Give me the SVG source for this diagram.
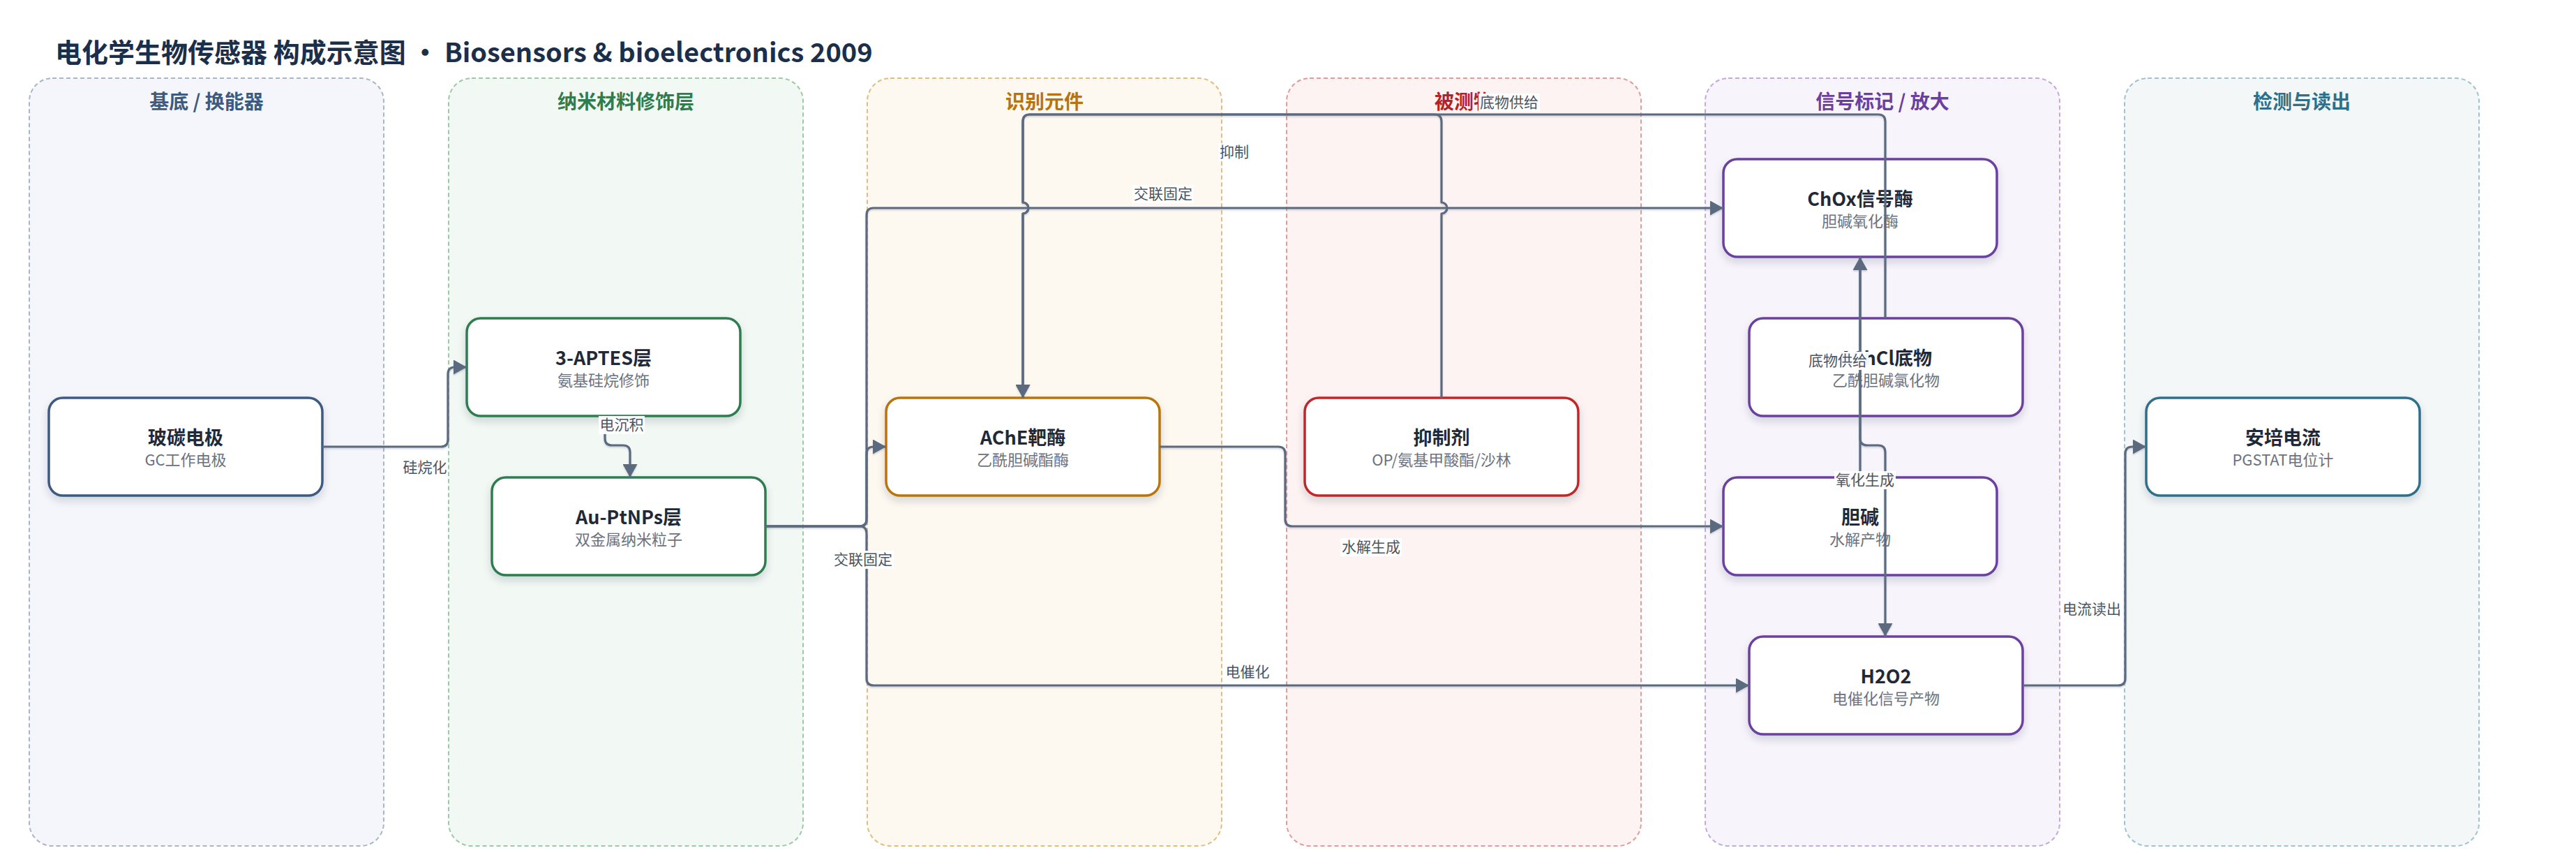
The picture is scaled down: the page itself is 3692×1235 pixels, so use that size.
<svg xmlns="http://www.w3.org/2000/svg" width="3692" height="1235" viewBox="0 0 3692 1235">
<defs>
<style>
text{font-family:"Noto Sans CJK SC","Noto Sans",sans-serif}
.title{font-size:38px;font-weight:700;fill:#1b2f4b}
.lane{stroke-width:2;stroke-dasharray:6 4}
.lt{font-size:28px;font-weight:700;text-anchor:middle}
.node rect{fill:#fff;stroke-width:3.5;filter:url(#sh)}
.nt{font-size:27px;font-weight:700;fill:#1f2937;text-anchor:middle}
.ns{font-size:22px;fill:#6b7280;text-anchor:middle}
.edge{fill:none;stroke:#5b6a80;stroke-width:3.2;stroke-linejoin:round}
.arr{marker-end:url(#ah)}
.lbl{font-size:21px;fill:#4b5563;text-anchor:middle}
.lbg{fill:#fff;fill-opacity:0.95}
</style>
<filter id="sh" x="-10%" y="-10%" width="120%" height="140%">
<feDropShadow dx="0" dy="6" stdDeviation="6" flood-color="#1f2937" flood-opacity="0.16"/>
</filter>
<filter id="esh" x="-5%" y="-5%" width="110%" height="110%">
<feDropShadow dx="0" dy="2" stdDeviation="1" flood-color="#5b6a80" flood-opacity="0.25"/>
</filter>
<marker id="ah" markerUnits="userSpaceOnUse" markerWidth="20" markerHeight="21" refX="19" refY="10.5" orient="auto">
<path d="M0,0 L19,10.5 L0,21 z" fill="#5b6a80"/>
</marker>
</defs>
<rect x="0" y="0" width="3692" height="1235" fill="#ffffff"/>
<text class="title" x="79" y="89">电化学生物传感器 构成示意图 • Biosensors &amp; bioelectronics 2009</text>

<g id="lanes">
<g id="lane-substrate">
<rect class="lane" x="42" y="112" width="508" height="1100" rx="33" fill="#f5f6fb" stroke="#a9b6c8"/>
<text class="lt" x="296" y="156" fill="#3d5a80">基底 / 换能器</text>
</g>
<g id="lane-nano">
<rect class="lane" x="643" y="112" width="508" height="1100" rx="33" fill="#f2f8f4" stroke="#9ccaa8"/>
<text class="lt" x="897" y="156" fill="#2e7d4f">纳米材料修饰层</text>
</g>
<g id="lane-recog">
<rect class="lane" x="1243" y="112" width="508" height="1100" rx="33" fill="#fdf8f0" stroke="#e3bd7f"/>
<text class="lt" x="1497" y="156" fill="#b8740a">识别元件</text>
</g>
<g id="lane-analyte">
<rect class="lane" x="1844" y="112" width="508" height="1100" rx="33" fill="#fdf3f2" stroke="#e39b98"/>
<text class="lt" x="2098" y="156" fill="#b62222">被测物</text>
</g>
<g id="lane-signal">
<rect class="lane" x="2444" y="112" width="508" height="1100" rx="33" fill="#f7f4fb" stroke="#c2a9e0"/>
<text class="lt" x="2698" y="156" fill="#6b3fa0">信号标记 / 放大</text>
</g>
<g id="lane-detect">
<rect class="lane" x="3045" y="112" width="508" height="1100" rx="33" fill="#f3f7f8" stroke="#9fc3cf"/>
<text class="lt" x="3299" y="156" fill="#2f6f8a">检测与读出</text>
</g>
</g>

<g id="nodes">
<g id="n-gc" class="node">
<rect x="70" y="570" width="392" height="140" rx="20" stroke="#3d5a80"/>
<text class="nt" x="266" y="637">玻碳电极</text>
<text class="ns" x="266" y="667">GC工作电极</text>
</g>
<g id="n-aptes" class="node">
<rect x="669" y="456" width="392" height="140" rx="20" stroke="#2e7d4f"/>
<text class="nt" x="865" y="523">3-APTES层</text>
<text class="ns" x="865" y="553">氨基硅烷修饰</text>
</g>
<g id="n-aupt" class="node">
<rect x="705" y="684" width="392" height="140" rx="20" stroke="#2e7d4f"/>
<text class="nt" x="901" y="751">Au-PtNPs层</text>
<text class="ns" x="901" y="781">双金属纳米粒子</text>
</g>
<g id="n-ache" class="node">
<rect x="1270" y="570" width="392" height="140" rx="20" stroke="#b8740a"/>
<text class="nt" x="1466" y="637">AChE靶酶</text>
<text class="ns" x="1466" y="667">乙酰胆碱酯酶</text>
</g>
<g id="n-inhib" class="node">
<rect x="1870" y="570" width="392" height="140" rx="20" stroke="#c0282a"/>
<text class="nt" x="2066" y="637">抑制剂</text>
<text class="ns" x="2066" y="667">OP/氨基甲酸酯/沙林</text>
</g>
<g id="n-chox" class="node">
<rect x="2470" y="228" width="392" height="140" rx="20" stroke="#6b3fa0"/>
<text class="nt" x="2666" y="295">ChOx信号酶</text>
<text class="ns" x="2666" y="325">胆碱氧化酶</text>
</g>
<g id="n-achcl" class="node">
<rect x="2507" y="456" width="392" height="140" rx="20" stroke="#6b3fa0"/>
<text class="nt" x="2703" y="523">AChCl底物</text>
<text class="ns" x="2703" y="553">乙酰胆碱氯化物</text>
</g>
<g id="n-choline" class="node">
<rect x="2470" y="684" width="392" height="140" rx="20" stroke="#6b3fa0"/>
<text class="nt" x="2666" y="751">胆碱</text>
<text class="ns" x="2666" y="781">水解产物</text>
</g>
<g id="n-h2o2" class="node">
<rect x="2507" y="912" width="392" height="140" rx="20" stroke="#6b3fa0"/>
<text class="nt" x="2703" y="979">H2O2</text>
<text class="ns" x="2703" y="1009">电催化信号产物</text>
</g>
<g id="n-amp" class="node">
<rect x="3076" y="570" width="392" height="140" rx="20" stroke="#2f6f8a"/>
<text class="nt" x="3272" y="637">安培电流</text>
<text class="ns" x="3272" y="667">PGSTAT电位计</text>
</g>
</g>

<g id="connectors" filter="url(#esh)">
<path class="edge arr" d="M462,640 H632 Q642,640 642,630 V536 Q642,526 652,526 H669"/>
<path class="edge arr" d="M867,596 V628 Q867,638 877,638 H893 Q903,638 903,648 V684"/>
<path class="edge arr" d="M1097,754 H1232 Q1242,754 1242,744 V650 Q1242,640 1252,640 H1270"/>
<path class="edge arr" d="M1097,754 H1232 Q1242,754 1242,744 V308 Q1242,298 1252,298 H2470"/>
<path class="edge arr" d="M1097,754 H1232 Q1242,754 1242,764 V972 Q1242,982 1252,982 H2507"/>
<path class="edge arr" d="M1662,640 H1832 Q1842,640 1842,650 V744 Q1842,754 1852,754 H2470"/>
<path class="edge arr" d="M2066,570 V306 A8,8 0 0 0 2066,290 V174 Q2066,164 2056,164 H1476 Q1466,164 1466,174 V290 A8,8 0 0 1 1466,306 V570"/>
<path class="edge arr" d="M2702,456 V174 Q2702,164 2692,164 H1476 Q1466,164 1466,174 V290 A8,8 0 0 1 1466,306 V570"/>
<path class="edge arr" d="M2666,684 V368"/>
<path class="edge arr" d="M2666,368 V628 Q2666,638 2676,638 H2692 Q2702,638 2702,648 V912"/>
<path class="edge arr" d="M2899,982 H3036 Q3046,982 3046,972 V650 Q3046,640 3056,640 H3076"/>
</g>

<g id="labels">
<text class="lbl" x="609" y="677">硅烷化</text>
<rect class="lbg" x="858" y="596" width="66" height="26"/>
<text class="lbl" x="891" y="616">电沉积</text>
<rect class="lbg" x="1193" y="789" width="88" height="26"/>
<text class="lbl" x="1237" y="809">交联固定</text>
<rect class="lbg" x="1623" y="265" width="88" height="26"/>
<text class="lbl" x="1667" y="285">交联固定</text>
<rect class="lbg" x="1746" y="205" width="46" height="26"/>
<text class="lbl" x="1769" y="225">抑制</text>
<rect class="lbg" x="2119" y="134" width="88" height="26"/>
<text class="lbl" x="2163" y="154">底物供给</text>
<rect class="lbg" x="1921" y="771" width="88" height="26"/>
<text class="lbl" x="1965" y="791">水解生成</text>
<rect class="lbg" x="1755" y="950" width="66" height="26"/>
<text class="lbl" x="1788" y="970">电催化</text>
<rect class="lbg" x="2590" y="504" width="88" height="26"/>
<text class="lbl" x="2634" y="524">底物供给</text>
<rect class="lbg" x="2629" y="675" width="88" height="26"/>
<text class="lbl" x="2673" y="695">氧化生成</text>
<rect class="lbg" x="2954" y="860" width="88" height="26"/>
<text class="lbl" x="2998" y="880">电流读出</text>
</g>
</svg>
